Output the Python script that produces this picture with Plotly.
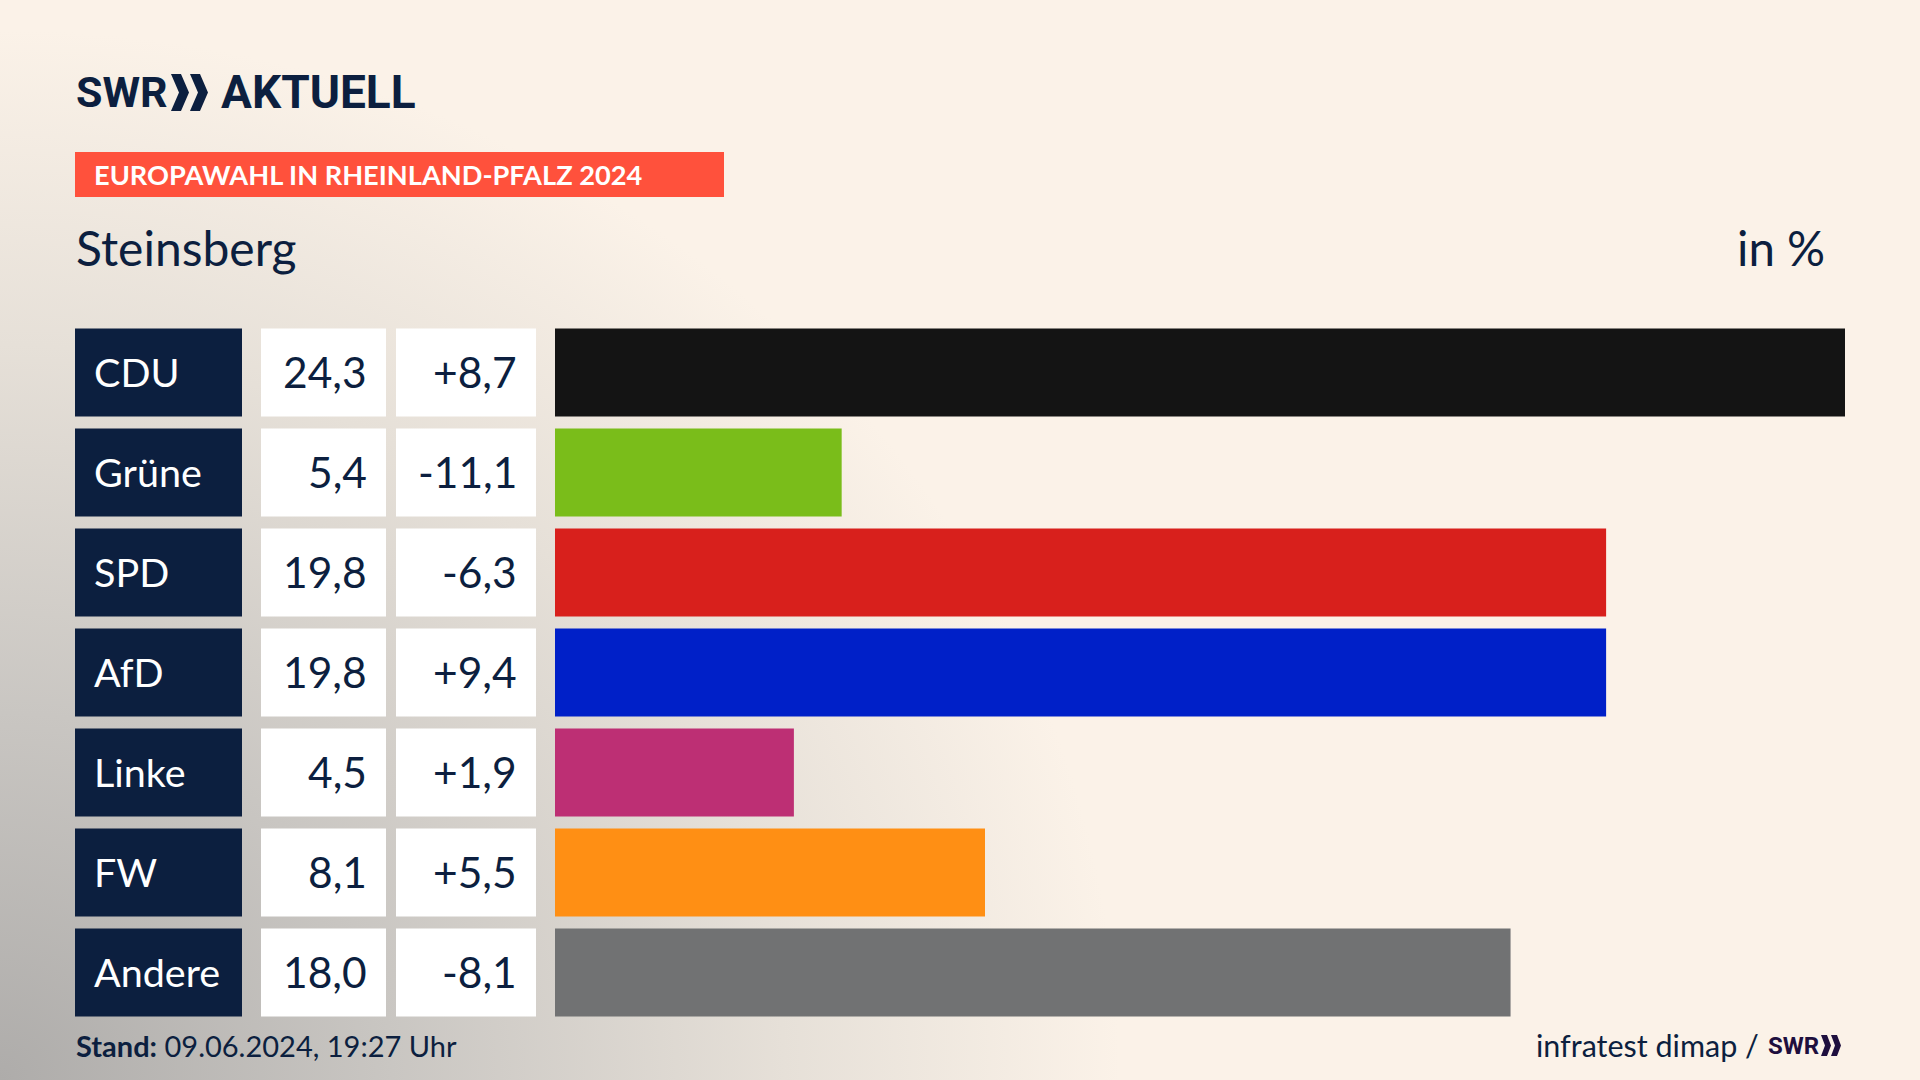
import plotly.graph_objects as go

W = 1920
H = 1080

parties = ["CDU", "Grüne", "SPD", "AfD", "Linke", "FW", "Andere"]
results = [24.3, 5.4, 19.8, 19.8, 4.5, 8.1, 18.0]
changes = [8.7, -11.1, -6.3, 9.4, 1.9, 5.5, -8.1]
party_colors = ["#141414", "#7abd1a", "#d8201c", "#0020c8", "#bd2f74", "#ff8f14", "#717273"]

NAVY = "#0c1f3f"
FONT = "Lato"
LOGO_FONT = "Roboto"


def px(x):
    return x / W


def py(y):
    return 1 - y / H


def comma(v):
    return f"{v:.1f}".replace(".", ",")


def signed(v):
    return ("+" if v > 0 else "") + comma(v)


def label(x, y, text, size, color=NAVY, anchor="left", family=FONT):
    return dict(xref="paper", yref="paper", x=px(x), y=py(y), text=text, showarrow=False,
                xanchor=anchor, yanchor="middle", borderpad=0,
                font=dict(family=family, size=size, color=color))


def cell_label(x, row, text, color, anchor, size):
    return dict(xref="paper", yref="y", x=px(x), y=row, text=text, showarrow=False,
                xanchor=anchor, yanchor="middle", borderpad=0, yshift=1.5,
                font=dict(family=FONT, size=size, color=color))


def chevron(x, y0, y1, w, tip, color):
    # one logo arrow, drawn in page pixels
    ym = (y0 + y1) / 2
    pts = [(x, y0), (x + tip, y0), (x + w, ym), (x + tip, y1), (x, y1), (x + w - tip, ym)]
    path = "M " + " L ".join(f"{px(a):.5f},{py(b):.5f}" for a, b in pts) + " Z"
    return dict(type="path", xref="paper", yref="paper", path=path,
                fillcolor=color, line=dict(width=0), layer="above")


fig = go.Figure()

# label column and the two white number columns
fig.add_trace(go.Bar(y=parties, x=[1] * 7, orientation="h", xaxis="x2", yaxis="y",
                     marker=dict(color=NAVY, line=dict(width=0)), hoverinfo="skip"))
fig.add_trace(go.Bar(y=parties, x=[1] * 7, orientation="h", xaxis="x3", yaxis="y",
                     marker=dict(color="#ffffff", line=dict(width=0)), hoverinfo="skip"))
fig.add_trace(go.Bar(y=parties, x=[1] * 7, orientation="h", xaxis="x4", yaxis="y",
                     marker=dict(color="#ffffff", line=dict(width=0)), hoverinfo="skip"))
fig.add_trace(go.Bar(y=parties, x=results, orientation="h",
                     marker=dict(color=party_colors, line=dict(width=0))))

annotations = [
    label(75, 92.5, "<b>SWR</b>", 43, family=LOGO_FONT),
    label(220, 92.5, "<b>AKTUELL</b>", 46, family=LOGO_FONT),
    label(93, 175, "<b>EUROPAWAHL IN RHEINLAND-PFALZ 2024</b>", 27.2, color="#ffffff"),
    label(75, 247.5, "Steinsberg", 48),
    label(1826, 247.5, "in %", 47.5, anchor="right"),
    label(75, 1045.5, "<b>Stand:</b> 09.06.2024, 19:27 Uhr", 29),
    label(1760, 1045, "infratest dimap /", 30.5, anchor="right"),
    label(1767, 1045.5, "<b>SWR</b>", 24, color="#1e0f3e", family=LOGO_FONT),
]
for i, party in enumerate(parties):
    annotations.append(cell_label(93, i, party, "#ffffff", "left", 39.5))
    annotations.append(cell_label(368, i, comma(results[i]), NAVY, "right", 42.5))
    annotations.append(cell_label(518, i, signed(changes[i]), NAVY, "right", 42.5))

shapes = [
    dict(type="rect", xref="paper", yref="paper", x0=px(75), x1=px(724), y0=py(152), y1=py(197),
         fillcolor="#ff513c", line=dict(width=0), layer="below"),
    chevron(171, 74, 111, 18, 10, NAVY),
    chevron(190, 74, 111, 18, 10, NAVY),
    chevron(1821, 1035, 1056, 10, 6, "#1e0f3e"),
    chevron(1831, 1035, 1056, 10, 6, "#1e0f3e"),
]

hidden = dict(visible=False, fixedrange=True)
fig.update_layout(
    width=W,
    height=H,
    margin=dict(l=0, r=0, t=0, b=0),
    paper_bgcolor="rgba(0,0,0,0)",
    plot_bgcolor="rgba(0,0,0,0)",
    showlegend=False,
    bargap=0.12,
    xaxis=dict(domain=[px(555), px(1845)], range=[0, 24.3], **hidden),
    xaxis2=dict(domain=[px(75), px(242)], range=[0, 1], anchor="y", **hidden),
    xaxis3=dict(domain=[px(261), px(386)], range=[0, 1], anchor="y", **hidden),
    xaxis4=dict(domain=[px(396), px(536)], range=[0, 1], anchor="y", **hidden),
    yaxis=dict(domain=[py(1022.5), py(322.5)], range=[6.5, -0.5], type="category", **hidden),
    annotations=annotations,
    shapes=shapes,
)

background = ("document.body.style.margin='0';"
              "document.body.style.background='radial-gradient(ellipse 1120px 1050px at 0% 100%,"
              "#aeacaa 0%,#c9c6c2 35%,#e6e0d8 70%,#fbf2e8 100%) #fbf2e8';")
fig.write_html("out.html", post_script=background, config={"displayModeBar": False})
